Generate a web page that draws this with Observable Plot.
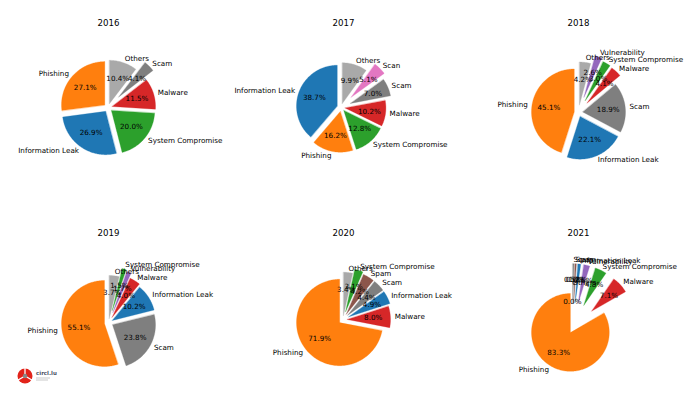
<!DOCTYPE html>
<html><head><meta charset="utf-8">
<script src="https://cdn.jsdelivr.net/npm/d3@7"></script>
<script src="https://cdn.jsdelivr.net/npm/@observablehq/plot@0.6"></script>
<style>
html,body{margin:0;padding:0;background:#fff;}
#chart{position:relative;width:700px;height:399px;overflow:hidden;}
#logo{position:absolute;left:16px;top:367px;}
</style></head><body><div id="chart"></div>
<script>
// ---- data ----
const years = ["2016","2017","2018","2019","2020","2021"];

const cats2016 = ["Phishing","Information Leak","System Compromise","Malware","Scam","Others"];
const vals2016 = [27.1, 26.9, 20.0, 11.5, 4.1, 10.4];
const cats2017 = ["Information Leak","Phishing","System Compromise","Malware","Scam","Scan","Others"];
const vals2017 = [38.7, 16.2, 12.8, 10.2, 7.0, 5.1, 9.9];
const cats2018 = ["Phishing","Information Leak","Scam","Malware","System Compromise","Vulnerability","Others"];
const vals2018 = [45.1, 22.1, 18.9, 4.1, 3.0, 2.6, 4.2];
const cats2019 = ["Phishing","Scam","Information Leak","Malware","Vulnerability","System Compromise","Others"];
const vals2019 = [55.1, 23.8, 10.2, 4.0, 1.7, 1.5, 3.7];
const cats2020 = ["Phishing","Malware","Information Leak","Scam","Spam","System Compromise","Others"];
const vals2020 = [71.9, 8.0, 4.9, 4.4, 4.2, 3.1, 3.4];
const cats2021 = ["Phishing","Malware","System Compromise","Vulnerability","Information Leak","Spam","Scam","Others"];
const vals2021 = [83.3, 7.1, 4.8, 2.5, 1.2, 0.6, 0.5, 0.0];

// explode offsets (fraction of radius), as in the original pie options
const expl2016 = [0.1, 0.1, 0.1, 0.1, 0.35, 0.1];
const expl2017 = [0.1, 0.1, 0.1, 0.1, 0.25, 0.35, 0.1];
const expl2018 = [0.1, 0.1, 0.1, 0.3, 0.32, 0.38, 0.18];
const expl2019 = [0.1, 0.1, 0.1, 0.15, 0.26, 0.3, 0.1];
const expl2020 = [0.1, 0.1, 0.15, 0.15, 0.15, 0.2, 0.1];
const expl2021 = [0.1, 0.68, 0.68, 0.68, 0.68, 0.68, 0.68, 0.1];

const categories = ["Information Leak","Phishing","System Compromise","Malware","Vulnerability","Spam","Scan","Scam","Others"];
const palette = ["#1f77b4","#ff7f0e","#2ca02c","#d62728","#9467bd","#8c564b","#e377c2","#7f7f7f","#a9a9a9"];

const series = [
  [cats2016, vals2016, expl2016],
  [cats2017, vals2017, expl2017],
  [cats2018, vals2018, expl2018],
  [cats2019, vals2019, expl2019],
  [cats2020, vals2020, expl2020],
  [cats2021, vals2021, expl2021]
];

// ---- layout (axes box per pie, px) ----
const AX_W = 94, AX_H = 150;
const fmt = d3.format(".1f");

const wedgePts = [], nameLabels = [], pctLabels = [], titles = [];
series.forEach(([cats, vals, expl], yi) => {
  const col = yi % 3, row = Math.floor(yi / 3), year = years[yi];
  titles.push({year, col, row});
  const total = d3.sum(vals);
  let start = 90;
  const slices = cats.map((c, i) => {
    const sweep = 360 * vals[i] / total;
    const a0 = start, a1 = start + sweep;
    start = a1;
    const mid = (a0 + a1) / 2 * Math.PI / 180;
    return {cat: c, value: vals[i], a0, a1, mid,
      ox: expl[i] * Math.cos(mid), oy: expl[i] * Math.sin(mid)};
  });
  // polygon points in pie units
  const polys = slices.map(s => {
    const pts = [[s.ox, s.oy]];
    const n = Math.max(2, Math.ceil((s.a1 - s.a0) / 1));
    for (let j = 0; j <= n; j++) {
      const a = (s.a0 + (s.a1 - s.a0) * j / n) * Math.PI / 180;
      pts.push([s.ox + Math.cos(a), s.oy + Math.sin(a)]);
    }
    return pts;
  });
  const all = polys.flat();
  const [x0, x1] = d3.extent(all, p => p[0]);
  const [y0, y1] = d3.extent(all, p => p[1]);
  const k = Math.min(AX_W / (x1 - x0), AX_H / (y1 - y0));
  const cx = (x0 + x1) / 2, cy = (y0 + y1) / 2;
  const T = (u, v) => [(u - cx) * k, (v - cy) * k];
  slices.forEach((s, i) => {
    if (s.value > 0) {
      polys[i].forEach(([u, v]) => {
        const [X, Y] = T(u, v);
        wedgePts.push({key: year + s.cat, cat: s.cat, X, Y, col, row});
      });
    }
    const lu = s.ox + 1.1 * Math.cos(s.mid), lv = s.oy + 1.1 * Math.sin(s.mid);
    const [LX, LY] = T(lu, lv);
    nameLabels.push({text: s.cat, X: LX, Y: LY, col, row, left: lu > -1e-9});
    const [PX, PY] = T(s.ox + 0.6 * Math.cos(s.mid), s.oy + 0.6 * Math.sin(s.mid));
    pctLabels.push({text: fmt(s.value) + "%", X: PX, Y: PY, col, row});
  });
});

const FS = 7.2;
const plot = Plot.plot({
  width: 700, height: 399,
  marginLeft: 33, marginRight: 47, marginTop: 32, marginBottom: 7,
  x: {domain: [-75, 75], axis: null},
  y: {domain: [-75, 75], axis: null},
  fx: {domain: [0, 1, 2], paddingInner: 85 / 235, paddingOuter: 0, round: false, axis: null},
  fy: {domain: [0, 1], paddingInner: 60 / 210, paddingOuter: 0, round: false, axis: null},
  color: {domain: categories, range: palette},
  style: {fontFamily: "'DejaVu Sans', sans-serif", background: "white", color: "black"},
  marks: [
    Plot.line(wedgePts, {x: "X", y: "Y", z: "key", fill: "cat", stroke: "cat", strokeWidth: 0.3,
      curve: "linear-closed", fx: "col", fy: "row"}),
    Plot.text(pctLabels, {x: "X", y: "Y", text: "text", fx: "col", fy: "row",
      fontSize: FS, textAnchor: "middle", lineAnchor: "middle", fill: "black"}),
    Plot.text(nameLabels.filter(d => d.left), {x: "X", y: "Y", text: "text", fx: "col", fy: "row",
      fontSize: FS, textAnchor: "start", lineAnchor: "middle", fill: "black"}),
    Plot.text(nameLabels.filter(d => !d.left), {x: "X", y: "Y", text: "text", fx: "col", fy: "row",
      fontSize: FS, textAnchor: "end", lineAnchor: "middle", fill: "black"}),
    Plot.text(titles, {text: "year", fx: "col", fy: "row", frameAnchor: "top",
      lineAnchor: "bottom", dy: -7, fontSize: 8.64, fill: "black"})
  ]
});
const chart = document.getElementById("chart");
chart.appendChild(plot);

// small logo in the lower-left corner
const logo = d3.select(chart).append("svg").attr("id", "logo").attr("width", 50).attr("height", 22);
logo.append("circle").attr("cx", 9).attr("cy", 9).attr("r", 7.5).attr("fill", "#e2231a");
[-90, 30, 150].forEach(a => {
  const r = a * Math.PI / 180;
  logo.append("line").attr("x1", 9).attr("y1", 9)
    .attr("x2", 9 + 8 * Math.cos(r)).attr("y2", 9 + 8 * Math.sin(r))
    .attr("stroke", "white").attr("stroke-width", 1.3);
});
logo.append("circle").attr("cx", 9).attr("cy", 9).attr("r", 2.2).attr("fill", "#888");
logo.append("text").attr("x", 20).attr("y", 8).attr("font-size", 5.5).attr("font-weight", "bold")
  .attr("font-family", "DejaVu Sans").attr("fill", "#4a4f63").text("circl.lu");
logo.append("line").attr("x1", 20).attr("x2", 34).attr("y1", 11).attr("y2", 11).attr("stroke", "#bbb").attr("stroke-width", 0.8);
logo.append("line").attr("x1", 20).attr("x2", 32).attr("y1", 13).attr("y2", 13).attr("stroke", "#bbb").attr("stroke-width", 0.8);
</script>
</body></html>
